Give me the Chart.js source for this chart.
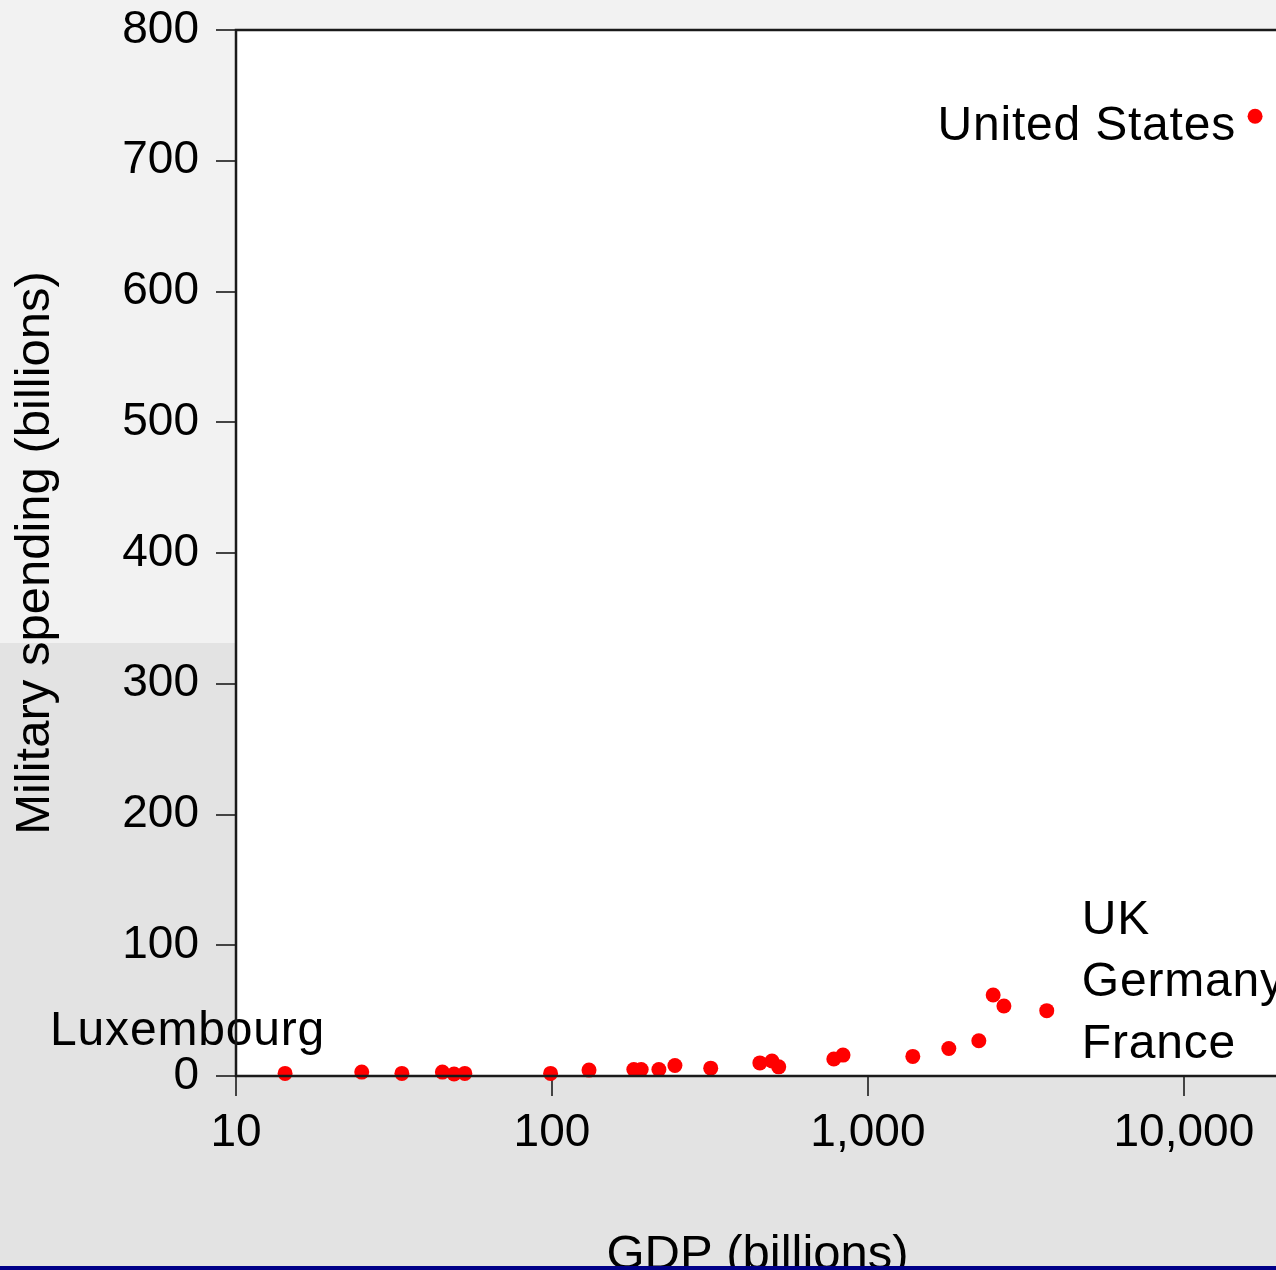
<!DOCTYPE html>
<html>
<head>
<meta charset="utf-8">
<script src="https://cdn.jsdelivr.net/npm/chart.js@4"></script>
<style>
  html, body { margin: 0; padding: 0; background: #e3e3e3; overflow: hidden; }
  #wrap { position: relative; width: 1276px; height: 1270px; overflow: hidden; }
  #c { position: absolute; left: 0; top: 0; }
  #bar { position: absolute; left: 0; top: 1266px; width: 1276px; height: 4px; background: #000088; }
</style>
</head>
<body>
<div id="wrap">
  <canvas id="c" width="1290" height="1290"></canvas>
  <div id="bar"></div>
</div>
<script>
// ---- data ----
const gdpBillions = [14.3, 25, 33.5, 45, 49, 53, 99, 131, 181.6, 191.6, 218, 245, 318, 455, 497, 522, 780, 834, 1387, 1803, 2244, 2491, 2694, 3681, 16800];
const militaryBillions = [2, 3, 2, 3, 1.5, 2, 2, 4.5, 5, 5, 5, 8, 6, 10, 11.5, 7, 13, 16, 15, 21, 27, 62, 53.5, 50, 734];

const xTickValues = [10, 100, 1000, 10000];
const yTickValues = [0, 100, 200, 300, 400, 500, 600, 700, 800];

const xTitle = 'GDP (billions)';
const yTitle = 'Military spending (billions)';

// text annotations, anchored in data units
const noteTexts = ['United States', 'UK', 'Germany', 'France', 'Luxembourg'];
const noteGdp   = [14625, 4753, 4753, 4753, 2.58];
const noteMil   = [716, 108.6, 61.2, 13.8, 23.7];
const noteAlign = ['right', 'left', 'left', 'left', 'left'];

const FONT = '"Liberation Sans", Arial, sans-serif';

const bgPlugin = {
  id: 'bg',
  beforeDraw(chart) {
    const ctx = chart.ctx, ca = chart.chartArea;
    ctx.save();
    ctx.fillStyle = '#f2f2f2';
    ctx.fillRect(0, 0, chart.width, 643);
    ctx.fillStyle = '#e3e3e3';
    ctx.fillRect(0, 643, chart.width, chart.height - 643);
    ctx.fillStyle = '#ffffff';
    ctx.fillRect(ca.left, ca.top, ca.right - ca.left, ca.bottom - ca.top);
    ctx.restore();
  },
  afterDatasetsDraw(chart) {
    const ctx = chart.ctx;
    const xs = chart.scales.x, ys = chart.scales.y;
    ctx.save();
    ctx.fillStyle = '#000';
    ctx.font = '48px ' + FONT;
    if ('letterSpacing' in ctx) ctx.letterSpacing = '0.8px';
    ctx.textBaseline = 'alphabetic';
    noteTexts.forEach((t, i) => {
      ctx.textAlign = noteAlign[i];
      ctx.fillText(t, xs.getPixelForValue(noteGdp[i]), ys.getPixelForValue(noteMil[i]));
    });
    ctx.restore();
  },
  afterDraw(chart) {
    const ctx = chart.ctx, ca = chart.chartArea;
    ctx.save();
    ctx.strokeStyle = '#1a1a1a';
    ctx.lineWidth = 2.5;
    ctx.strokeRect(ca.left, ca.top, ca.right - ca.left + 20, ca.bottom - ca.top);
    ctx.restore();
  }
};

new Chart(document.getElementById('c'), {
  type: 'scatter',
  data: {
    datasets: [{
      data: gdpBillions.map((g, i) => ({ x: g, y: militaryBillions[i] })),
      backgroundColor: '#ff0000',
      borderWidth: 0,
      pointRadius: 7.5,
      pointHoverRadius: 7.5,
      clip: false
    }]
  },
  options: {
    responsive: false,
    devicePixelRatio: 1,
    animation: false,
    layout: { padding: { top: 30, right: 11, left: 0, bottom: 0 } },
    plugins: { legend: { display: false }, tooltip: { enabled: false } },
    scales: {
      x: {
        type: 'logarithmic',
        min: 10, max: 20000,
        afterBuildTicks(s) { s.ticks = xTickValues.map(v => ({ value: v })); },
        afterFit(s) { s.height = 214; s.paddingLeft = 0; s.paddingRight = 0; },
        ticks: {
          autoSkip: false, maxRotation: 0,
          color: '#000', padding: 10,
          font: { size: 46, family: FONT },
          callback: v => Number(v).toLocaleString('en-US')
        },
        grid: { drawOnChartArea: false, tickLength: 20, color: '#444', lineWidth: 2 },
        border: { display: false },
        title: { display: true, text: xTitle, color: '#000', font: { size: 49, family: FONT }, padding: { top: 0, bottom: 5 } }
      },
      y: {
        type: 'linear',
        min: 0, max: 800,
        afterBuildTicks(s) { s.ticks = yTickValues.map(v => ({ value: v })); },
        afterFit(s) { s.width = 236; s.paddingTop = 0; s.paddingBottom = 0; },
        ticks: {
          color: '#000', padding: 17,
          font: { size: 46, family: FONT }
        },
        grid: { drawOnChartArea: false, tickLength: 20, color: '#444', lineWidth: 2 },
        border: { display: false },
        title: { display: true, text: yTitle, color: '#000', font: { size: 49, family: FONT }, padding: { top: 6, bottom: 0 } }
      }
    }
  },
  plugins: [bgPlugin]
});
</script>
</body>
</html>
